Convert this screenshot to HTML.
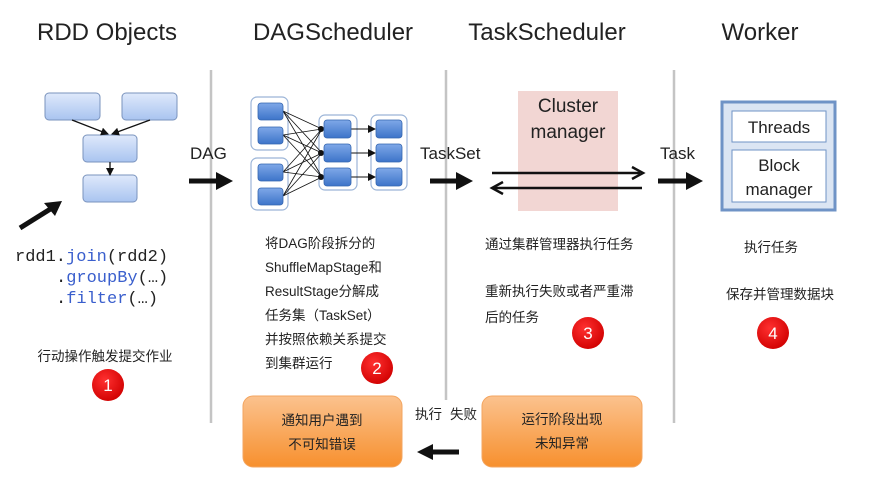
<!DOCTYPE html>
<html><head><meta charset="utf-8"><style>
html,body{margin:0;padding:0;background:#fff;}
svg{display:block;}
text{font-family:"Liberation Sans","Noto Sans CJK SC",sans-serif;fill:#222;}
text.num{fill:#fff;}
.cjk{font-size:13.5px;}
.mono{font-family:"Liberation Mono","DejaVu Sans Mono",monospace;font-size:17px;}
</style></head><body>
<svg width="894" height="488" viewBox="0 0 894 488" xmlns="http://www.w3.org/2000/svg">
<defs>
<linearGradient id="lb" x1="0" y1="0" x2="0" y2="1"><stop offset="0" stop-color="#dfe9fb"/><stop offset="1" stop-color="#a9c4f0"/></linearGradient>
<linearGradient id="db" x1="0" y1="0" x2="0" y2="1"><stop offset="0" stop-color="#7fa8e8"/><stop offset="1" stop-color="#3d74c9"/></linearGradient>
<linearGradient id="or" x1="0" y1="0" x2="0" y2="1"><stop offset="0" stop-color="#fbc28e"/><stop offset="1" stop-color="#f7902e"/></linearGradient>
<radialGradient id="rc" cx="0.4" cy="0.35" r="0.7"><stop offset="0" stop-color="#ff3030"/><stop offset="1" stop-color="#d00000"/></radialGradient>
<marker id="ah" markerWidth="8" markerHeight="8" refX="7" refY="4" orient="auto" markerUnits="userSpaceOnUse"><path d="M0,0 L8,4 L0,8 z" fill="#111"/></marker>
</defs>
<text x="107" y="40" font-size="24" text-anchor="middle">RDD Objects</text>
<text x="333" y="40" font-size="24" text-anchor="middle">DAGScheduler</text>
<text x="547" y="40" font-size="24" text-anchor="middle">TaskScheduler</text>
<text x="760" y="40" font-size="24" text-anchor="middle">Worker</text>
<g stroke="#c4c4c4" stroke-width="2.5">
<line x1="211" y1="70" x2="211" y2="423"/>
<line x1="446" y1="70" x2="446" y2="400"/>
<line x1="674" y1="70" x2="674" y2="423"/>
</g>
<g fill="url(#lb)" stroke="#7a93bd" stroke-width="1">
<rect x="45" y="93" width="55" height="27" rx="4"/>
<rect x="122" y="93" width="55" height="27" rx="4"/>
<rect x="83" y="135" width="54" height="27" rx="4"/>
<rect x="83" y="175" width="54" height="27" rx="4"/>
</g>
<g stroke="#111" stroke-width="1.3" marker-end="url(#ah)">
<line x1="72" y1="120" x2="108" y2="134"/>
<line x1="150" y1="120" x2="112" y2="134"/>
<line x1="110" y1="162" x2="110" y2="175"/>
</g>
<line x1="20" y1="228" x2="52" y2="208" stroke="#111" stroke-width="5"/>
<path d="M62,201 L44,203 L55,216 z" fill="#111"/>
<text class="mono" x="15" y="261">rdd1.<tspan fill="#3a5fcd">join</tspan>(rdd2)</text>
<text class="mono" x="56" y="282">.<tspan fill="#3a5fcd">groupBy</tspan>(…)</text>
<text class="mono" x="56" y="303">.<tspan fill="#3a5fcd">filter</tspan>(…)</text>
<text class="cjk" x="105" y="361" text-anchor="middle">行动操作触发提交作业</text>
<text x="190" y="159" font-size="17">DAG</text>
<line x1="189" y1="181" x2="218" y2="181" stroke="#111" stroke-width="5"/>
<path d="M216,172 L233,181 L216,190 z" fill="#111"/>
<g fill="#fff" stroke="#9cb5d8" stroke-width="1.2">
<rect x="251" y="97" width="37" height="53" rx="6"/>
<rect x="251" y="158" width="37" height="52" rx="6"/>
<rect x="319" y="115" width="38" height="75" rx="6"/>
<rect x="371" y="115" width="36" height="75" rx="6"/>
</g>
<g stroke="#111" stroke-width="0.8">
<path d="M283,111 L322,129 M283,111 L322,153 M283,111 L322,177 M283,135 L322,129 M283,135 L322,153 M283,135 L322,177 M283,172 L322,129 M283,172 L322,153 M283,172 L322,177 M283,196 L322,129 M283,196 L322,153 M283,196 L322,177"/>
</g>
<g fill="#111"><circle cx="321" cy="129" r="3"/><circle cx="321" cy="153" r="3"/><circle cx="321" cy="177" r="3"/></g>
<g stroke="#111" stroke-width="1" marker-end="url(#ah)">
<line x1="351" y1="129" x2="375" y2="129"/><line x1="351" y1="153" x2="375" y2="153"/><line x1="351" y1="177" x2="375" y2="177"/>
</g>
<g fill="url(#db)" stroke="#3566b0" stroke-width="0.8">
<rect x="258" y="103" width="25" height="17" rx="3"/><rect x="258" y="127" width="25" height="17" rx="3"/>
<rect x="258" y="164" width="25" height="17" rx="3"/><rect x="258" y="188" width="25" height="17" rx="3"/>
<rect x="324" y="120" width="27" height="18" rx="3"/><rect x="324" y="144" width="27" height="18" rx="3"/><rect x="324" y="168" width="27" height="18" rx="3"/>
<rect x="376" y="120" width="26" height="18" rx="3"/><rect x="376" y="144" width="26" height="18" rx="3"/><rect x="376" y="168" width="26" height="18" rx="3"/>
</g>
<text class="cjk" x="265" y="248">将DAG阶段拆分的</text>
<text class="cjk" x="265" y="272">ShuffleMapStage和</text>
<text class="cjk" x="265" y="296">ResultStage分解成</text>
<text class="cjk" x="265" y="320">任务集（TaskSet）</text>
<text class="cjk" x="265" y="344">并按照依赖关系提交</text>
<text class="cjk" x="265" y="368">到集群运行</text>
<text x="420" y="159" font-size="17">TaskSet</text>
<line x1="430" y1="181" x2="458" y2="181" stroke="#111" stroke-width="5"/>
<path d="M456,172 L473,181 L456,190 z" fill="#111"/>
<rect x="518" y="91" width="100" height="120" fill="#f2d6d3"/>
<text x="568" y="112" font-size="19" text-anchor="middle">Cluster</text>
<text x="568" y="138" font-size="19" text-anchor="middle">manager</text>
<line x1="492" y1="173" x2="640" y2="173" stroke="#111" stroke-width="2.5"/>
<path d="M632,167 L643,173 L632,179" fill="none" stroke="#111" stroke-width="2.5"/>
<line x1="494" y1="188" x2="642" y2="188" stroke="#111" stroke-width="2.5"/>
<path d="M503,182 L492,188 L503,194" fill="none" stroke="#111" stroke-width="2.5"/>
<text class="cjk" x="485" y="249">通过集群管理器执行任务</text>
<text class="cjk" x="485" y="296">重新执行失败或者严重滞</text>
<text class="cjk" x="485" y="322">后的任务</text>
<text x="660" y="159" font-size="17">Task</text>
<line x1="658" y1="181" x2="688" y2="181" stroke="#111" stroke-width="5"/>
<path d="M686,172 L703,181 L686,190 z" fill="#111"/>
<rect x="722" y="102" width="113" height="108" fill="#dbe5f3" stroke="#6f93c6" stroke-width="3"/>
<rect x="732" y="111" width="94" height="31" fill="#fff" stroke="#6f93c6" stroke-width="1"/>
<rect x="732" y="150" width="94" height="52" fill="#fff" stroke="#6f93c6" stroke-width="1"/>
<text x="779" y="133" font-size="17" text-anchor="middle">Threads</text>
<text x="779" y="171" font-size="17" text-anchor="middle">Block</text>
<text x="779" y="195" font-size="17" text-anchor="middle">manager</text>
<text class="cjk" x="771" y="252" text-anchor="middle">执行任务</text>
<text class="cjk" x="780" y="299" text-anchor="middle">保存并管理数据块</text>
<g fill="url(#rc)">
<circle cx="108" cy="385" r="16"/><circle cx="377" cy="368" r="16"/><circle cx="588" cy="333" r="16"/><circle cx="773" cy="333" r="16"/>
</g>
<text class="num" x="108" y="391" font-size="17" text-anchor="middle">1</text>
<text class="num" x="377" y="374" font-size="17" text-anchor="middle">2</text>
<text class="num" x="588" y="339" font-size="17" text-anchor="middle">3</text>
<text class="num" x="773" y="339" font-size="17" text-anchor="middle">4</text>
<rect x="243" y="396" width="159" height="71" rx="10" fill="url(#or)" stroke="#f3a560"/>
<rect x="482" y="396" width="160" height="71" rx="10" fill="url(#or)" stroke="#f3a560"/>
<text class="cjk" x="322" y="425" text-anchor="middle">通知用户遇到</text>
<text class="cjk" x="322" y="449" text-anchor="middle">不可知错误</text>
<text class="cjk" x="562" y="424" text-anchor="middle">运行阶段出现</text>
<text class="cjk" x="562" y="448" text-anchor="middle">未知异常</text>
<text class="cjk" x="415" y="419">执行</text>
<text class="cjk" x="450" y="419">失败</text>
<line x1="431" y1="452" x2="459" y2="452" stroke="#111" stroke-width="5"/>
<path d="M433,444 L417,452 L433,460 z" fill="#111"/>
</svg>
</body></html>
